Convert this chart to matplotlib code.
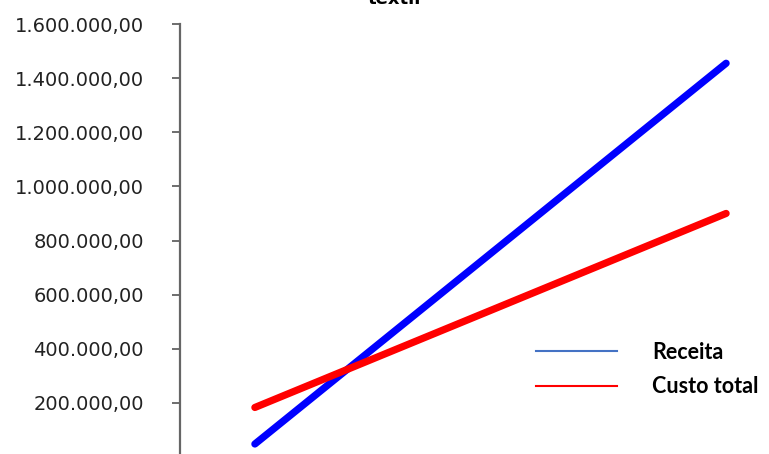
import matplotlib
matplotlib.use("Agg")
import matplotlib.pyplot as plt
from matplotlib.lines import Line2D
from matplotlib.ticker import FuncFormatter

# ── Data ──────────────────────────────────────────────────────────────────────
quantidade  = [0, 1]
receita     = [48_000, 1_455_000]
custo_total = [183_000, 900_000]
series_names = ["Receita", "Custo total"]
y_ticks = [200_000, 400_000, 600_000, 800_000, 1_000_000, 1_200_000, 1_400_000, 1_600_000]
title = "textil"


def br_fmt(v, _pos=None):
    # 1600000 -> 1.600.000,00
    s = f"{v:,.2f}"
    return s.replace(",", "X").replace(".", ",").replace("X", ".")


fig = plt.figure(figsize=(7.69, 4.54), dpi=100)
ax = fig.add_axes([0.234, -0.0066, 0.766, 0.9537])

ax.plot(quantidade, receita, color="#0000ff", lw=5.2, solid_capstyle="round")
ax.plot(quantidade, custo_total, color="#ff0000", lw=5.2, solid_capstyle="round")

ax.set_xlim(-0.159, 1.091)
ax.set_ylim(0, 1_600_000)
ax.set_yticks(y_ticks)
ax.yaxis.set_major_formatter(FuncFormatter(br_fmt))
ax.tick_params(axis="y", direction="out", length=6, width=1.2, color="#555555",
               labelsize=14, labelcolor="#222222", pad=20)
for lbl in ax.get_yticklabels():
    lbl.set_fontweight("medium")
ax.set_xticks([])
for side in ["top", "right", "bottom"]:
    ax.spines[side].set_visible(False)
ax.spines["left"].set_color("#666666")
ax.spines["left"].set_linewidth(1.6)

# ── Legend (thin proxy lines, like the original) ──────────────────────────────
handles = [
    Line2D([], [], color="#4472c4", lw=1.5),
    Line2D([], [], color="#ff0000", lw=1.5),
]
ax.legend(handles, series_names, loc="center left", bbox_to_anchor=(0.571, 0.202),
          frameon=False, handlelength=3.8, handletextpad=1.6, labelspacing=0.62,
          prop={"family": "Lato", "weight": "bold", "size": 15.5})

fig.text(0.513, 0.991, title, ha="center", va="baseline", fontsize=13, fontweight="bold")

fig.savefig("out.png", dpi=100)
